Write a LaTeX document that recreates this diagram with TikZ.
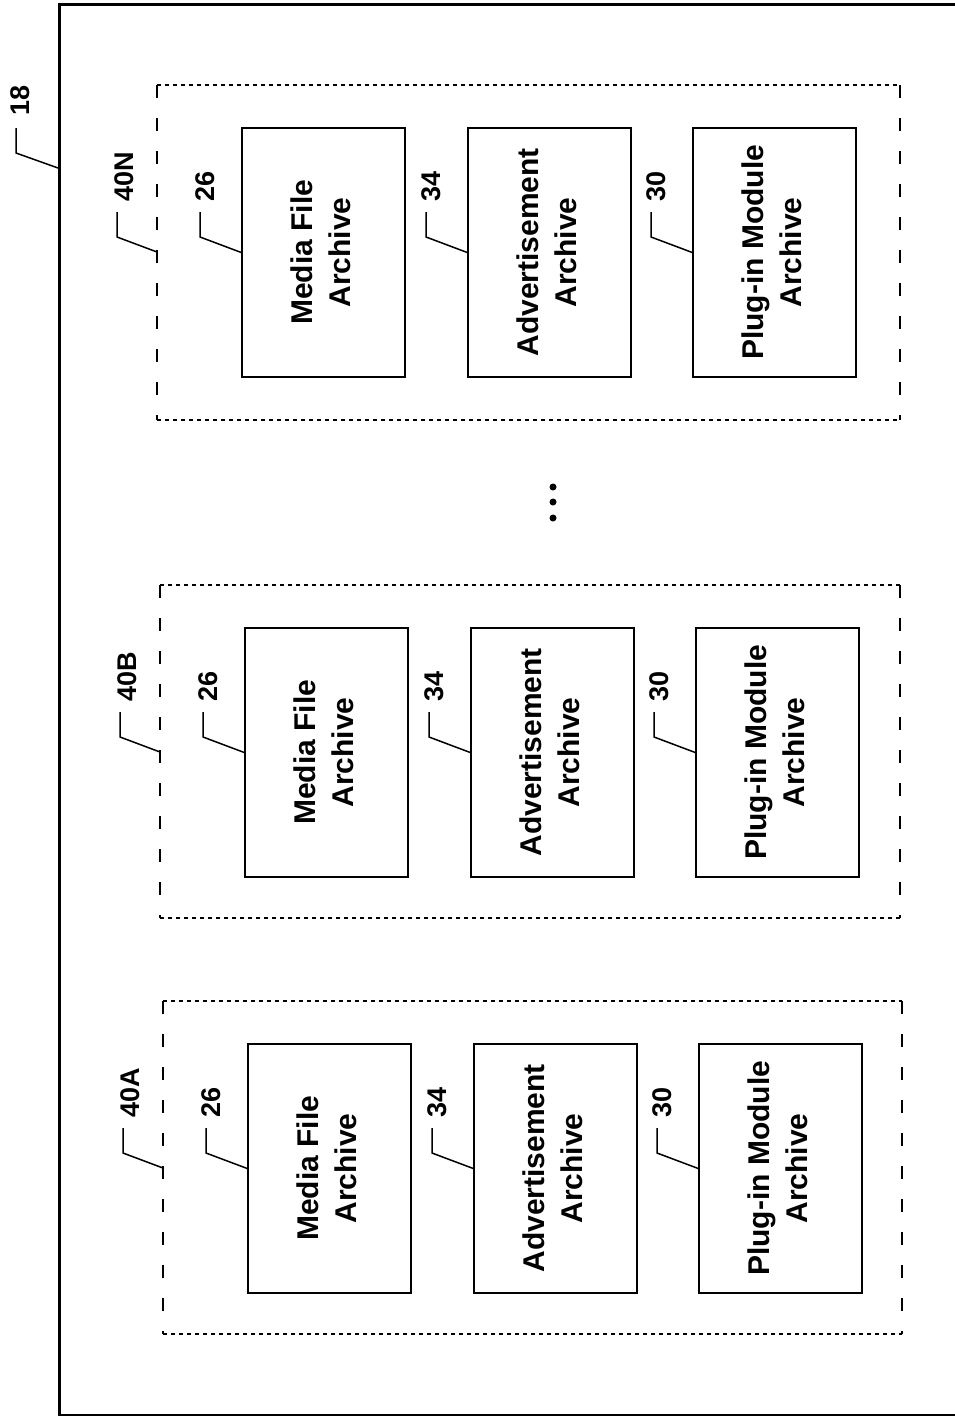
\documentclass[tikz,border=0pt]{standalone}
\usepackage{fontspec}
\setsansfont{Liberation Sans}
\usetikzlibrary{calc}
\begin{document}
\begin{tikzpicture}[x=1pt,y=-1pt,
  frame/.style={draw, line width=2.6pt, inner sep=0pt, anchor=north west},
  archive/.style={draw, line width=1.8pt, minimum width=163pt, minimum height=249pt, inner sep=0pt, anchor=north west, font=\sffamily\bfseries\fontsize{30}{38}\selectfont},
  hdash/.style={line width=1.6pt, dash pattern=on 4pt off 4pt},
  vdash/.style={line width=1.6pt, dash pattern=on 13pt off 20pt},
  ref/.style={font=\sffamily\bfseries\fontsize{27}{30}\selectfont, rotate=90, inner sep=1pt},
  leader/.style={line width=1.5pt},
  dot/.style={circle, fill, inner sep=0pt, minimum size=7pt}]
\useasboundingbox (0,0) rectangle (955,1416);
% outer frame (extends past right edge)
\node[frame, minimum width=912pt, minimum height=1411pt] (frame) at (58,3) {};
\node[ref] (l18) at (20,100) {18};
\coordinate (s18) at (16,128);
\draw[leader] (s18) -- ++(0,25) -- ($(frame.north west)+(0,165)$);
% groups
\foreach \g/\gx/\gy/\gr/\gb in {N/157/85/900/420, B/160/585/900/918, A/163/1001/902/1334}{
  \coordinate (g\g-nw) at (\gx,\gy);
  \coordinate (g\g-ne) at (\gr,\gy);
  \coordinate (g\g-sw) at (\gx,\gb);
  \coordinate (g\g-se) at (\gr,\gb);
  \draw[hdash] (g\g-nw) -- (g\g-ne);
  \draw[hdash] (g\g-sw) -- (g\g-se);
  \draw[vdash] (g\g-nw) -- (g\g-sw);
  \draw[vdash] (g\g-ne) -- (g\g-se);
  \node[ref] (l\g) at (\gx-33,\gy+92) {40\g};
  \coordinate (s\g) at (\gx-40,\gy+127);
  \draw[leader] (s\g) -- ++(0,25) -- ($(g\g-nw)+(0,167)$);
  \foreach \k/\dx/\num/\txt in {m/84/26/{Media File\\Archive}, a/310/34/{Advertisement\\Archive}, p/535/30/{Plug-in Module\\Archive}}{
    \node[archive] (\k\g) at (\gx+\dx,\gy+42) {\rotatebox{90}{\begin{tabular}{@{}c@{}}\txt\end{tabular}}};
    \node[ref] (n\k\g) at (\gx+\dx-36,\gy+101) {\num};
    \coordinate (t\k\g) at (\gx+\dx-41,\gy+127);
    \draw[leader] (t\k\g) -- ++(0,25) -- (\k\g.west);
  }
}
% ellipsis dots
\node[dot] (d1) at (553,487) {};
\node[dot] (d2) at (553,502) {};
\node[dot] (d3) at (553,518) {};
\end{tikzpicture}
\end{document}
